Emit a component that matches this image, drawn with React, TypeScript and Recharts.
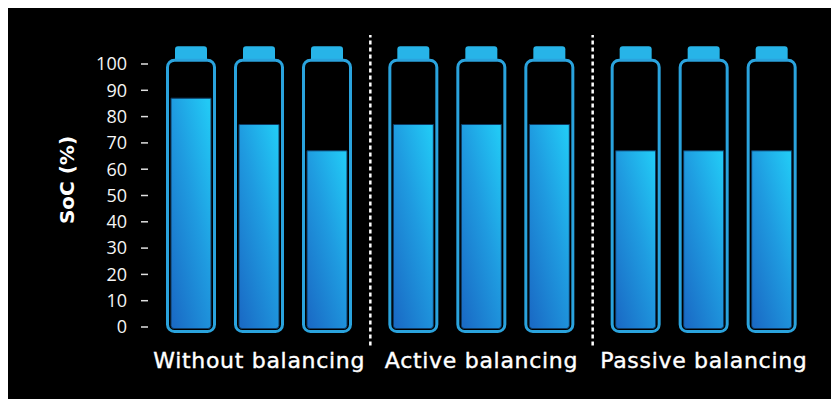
import React from 'react';
import { BarChart, Bar, XAxis, YAxis, ReferenceLine, Label } from 'recharts';

const groups = ['Without balancing', 'Active balancing', 'Passive balancing'];
const cell1 = [87, 77, 67];
const cell2 = [77, 77, 67];
const cell3 = [67, 77, 67];
const yTicks = [0, 10, 20, 30, 40, 50, 60, 70, 80, 90, 100];
const separatorGroups = ['Active balancing', 'Passive balancing'];
const sepRange = [-7, 111];

const data = groups.map((g, i) => ({ group: g, cell1: cell1[i], cell2: cell2[i], cell3: cell3[i] }));

const Battery = (props: any) => {
  const { x, y, width, height, payload, k } = props;
  const v = payload[k];
  if (!v || !height) return null;
  const ppu = height / v;
  const y0 = y + height;
  const y100 = y0 - 100 * ppu;
  const cx = x + width / 2;
  const oTop = y100 - 3.8;
  const oBot = y0 + 4.5;
  const capTop = oTop - 1.5 - 12.5;
  const capBot = oTop;
  const capW = 32;
  const r = 3;
  const fb = y0 + 1.5;
  const fillPath = `M${x},${y} L${x + width},${y} L${x + width},${fb - r} Q${x + width},${fb} ${x + width - r},${fb} L${x + r},${fb} Q${x},${fb} ${x},${fb - r} Z`;
  const capPath = `M${cx - capW / 2},${capBot} L${cx - capW / 2},${capTop + r} Q${cx - capW / 2},${capTop} ${cx - capW / 2 + r},${capTop} L${cx + capW / 2 - r},${capTop} Q${cx + capW / 2},${capTop} ${cx + capW / 2},${capTop + r} L${cx + capW / 2},${capBot} Z`;
  return (
    <g>
      <path d={capPath} fill="#27b4e8" />
      <rect x={x - 3.5} y={oTop} width={width + 7} height={oBot - oTop} rx={7} ry={7} fill="#000" stroke="#2aa3dd" strokeWidth={3} />
      <path d={fillPath} fill="url(#cellGrad)" stroke="#0e3a63" strokeWidth={1} />
    </g>
  );
};

const YLabel = (props: any) => {
  const vb = props.viewBox || { x: 0, y: 0, width: 0, height: 0 };
  const cx = vb.x + 58.5;
  const cy = vb.y + vb.height / 2 - 15.5;
  return (
    <text
      x={cx}
      y={cy}
      transform={`rotate(-90, ${cx}, ${cy})`}
      textAnchor="middle"
      dominantBaseline="central"
      fill="#ffffff"
      fontFamily="DejaVu Sans"
      fontWeight="bold"
      fontSize={20}
    >
      SoC (%)
    </text>
  );
};

export default function App() {
  return (
    <div style={{ marginTop: -3, width: 831, height: 394, background: '#000' }}>
      <BarChart
        width={831}
        height={394}
        data={data}
        margin={{ top: 59, right: 24, bottom: 0, left: 0 }}
        barSize={40}
        barGap={28}
      >
        <defs>
          <linearGradient id="cellGrad" x1="0.1" y1="1" x2="0.9" y2="0">
            <stop offset="0%" stopColor="#1a6cc6" />
            <stop offset="55%" stopColor="#1f9be0" />
            <stop offset="100%" stopColor="#22c9f5" />
          </linearGradient>
        </defs>
        <XAxis
          dataKey="group"
          axisLine={false}
          tickLine={false}
          tickSize={0}
          tickMargin={25}
          height={72}
          interval={0}
          tick={{ fill: '#ffffff', fontSize: 22, fontFamily: 'DejaVu Sans', letterSpacing: 0.7, stroke: '#ffffff', strokeWidth: 0.4 }}
        />
        <YAxis
          domain={[0, 100]}
          ticks={yTicks}
          width={140}
          axisLine={false}
          tickSize={7}
          tickMargin={14}
          tickLine={{ stroke: '#e0e0e0', strokeWidth: 1.5 }}
          tick={{ fill: '#f5f5f5', fontSize: 18, fontFamily: 'Open Sans', fontWeight: 400 }}
          interval={0}
        >
          <Label content={<YLabel />} />
        </YAxis>
        {separatorGroups.map((s) => (
          <ReferenceLine
            key={s}
            position="start"
            segment={[{ x: s, y: sepRange[0] }, { x: s, y: sepRange[1] }]}
            ifOverflow="visible"
            stroke="#ffffff"
            strokeWidth={2.5}
            strokeDasharray="4 3"
          />
        ))}
        <Bar dataKey="cell1" isAnimationActive={false} shape={(p: any) => <Battery {...p} k="cell1" />} />
        <Bar dataKey="cell2" isAnimationActive={false} shape={(p: any) => <Battery {...p} k="cell2" />} />
        <Bar dataKey="cell3" isAnimationActive={false} shape={(p: any) => <Battery {...p} k="cell3" />} />
      </BarChart>
    </div>
  );
}
